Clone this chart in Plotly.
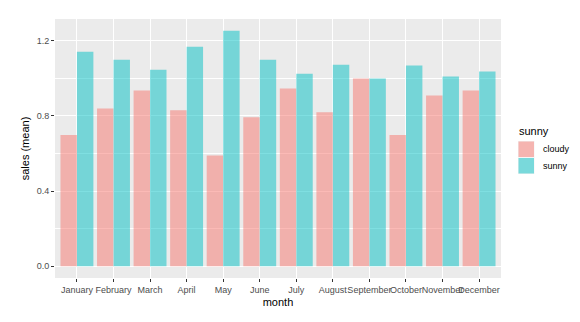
import plotly.graph_objects as go

months = ["January", "February", "March", "April", "May", "June", "July",
          "August", "September", "October", "November", "December"]
cloudy = [0.698, 0.84, 0.935, 0.83, 0.59, 0.793, 0.946, 0.819, 0.999, 0.698, 0.909, 0.935]
sunny = [1.142, 1.099, 1.046, 1.168, 1.253, 1.099, 1.025, 1.073, 0.999, 1.068, 1.01, 1.036]
series_names = ["cloudy", "sunny"]
colors = ["rgba(248,118,109,0.5)", "rgba(0,191,196,0.5)"]
yticks = [0.0, 0.4, 0.8, 1.2]

W, H = 580, 322
L, R, T, B = 55, 501, 19, 278

fig = go.Figure()
for name, vals, col in zip(series_names, [cloudy, sunny], colors):
    fig.add_bar(x=months, y=vals, name=name, marker=dict(color=col, line=dict(width=0)),
                showlegend=False)

def px_x(p):
    return (p - L) / (R - L)

def px_y(p):
    return (B - p) / (B - T)

shapes = []
annotations = []
# legend
annotations.append(dict(text="sunny", x=px_x(517), y=px_y(131), xref="paper", yref="paper",
                        xanchor="left", yanchor="middle", showarrow=False,
                        font=dict(size=11, color="black", family="Liberation Sans, Arial")))
for i, (name, col) in enumerate(zip(series_names, colors)):
    y0 = 141 + i * 16.5
    y1 = y0 + 16.5
    shapes.append(dict(type="rect", xref="paper", yref="paper",
                       x0=px_x(518), x1=px_x(534.5), y0=px_y(y1), y1=px_y(y0),
                       fillcolor="#F2F2F2", line=dict(width=0)))
    shapes.append(dict(type="rect", xref="paper", yref="paper",
                       x0=px_x(518.5), x1=px_x(534), y0=px_y(y1 - 0.5), y1=px_y(y0 + 0.5),
                       fillcolor=col, line=dict(width=0)))
    annotations.append(dict(text=name, x=px_x(541), y=px_y((y0 + y1) / 2), xref="paper", yref="paper",
                            xanchor="left", yanchor="middle", showarrow=False,
                            font=dict(size=9, color="black", family="Liberation Sans, Arial")))

fig.update_layout(
    width=W, height=H,
    margin=dict(l=L, r=W - R, t=T, b=H - B, pad=0),
    paper_bgcolor="white", plot_bgcolor="#EBEBEB",
    barmode="group", bargap=0.1, bargroupgap=0,
    font=dict(family="Liberation Sans, Arial", size=9, color="#4D4D4D"),
    shapes=shapes, annotations=annotations,
    showlegend=False,
)
fig.update_xaxes(
    type="category", range=[-0.6, 11.6],
    showgrid=True, gridcolor="white", gridwidth=1.1,
    ticks="outside", ticklen=3, tickcolor="#333333", tickwidth=1,
    tickfont=dict(size=9, color="#4D4D4D"),
    title=dict(text="month", font=dict(size=11, color="black"), standoff=4),
    zeroline=False, showline=False, tickangle=0,
)
fig.update_yaxes(
    range=[-0.0627, 1.316],
    tickvals=yticks, ticktext=[f"{v:.1f}" for v in yticks],
    showgrid=True, gridcolor="white", gridwidth=1.1,
    minor=dict(tickvals=[0.2, 0.6, 1.0], showgrid=True, gridcolor="white", gridwidth=0.5, ticks=""),
    ticks="outside", ticklen=3, tickcolor="#333333", tickwidth=1,
    tickfont=dict(size=9, color="#4D4D4D"),
    title=dict(text="sales (mean)", font=dict(size=11, color="black"), standoff=4),
    zeroline=False, showline=False,
)

fig.write_html("out.html")
